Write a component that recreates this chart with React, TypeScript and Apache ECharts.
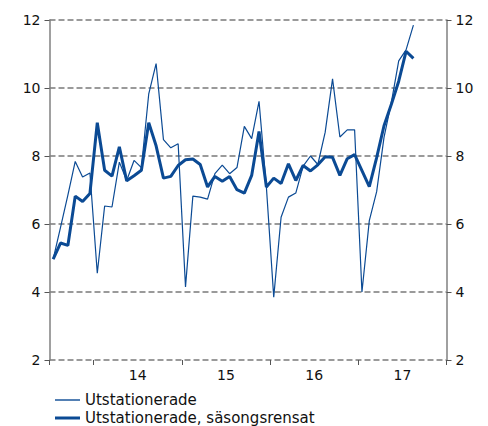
import React, { useEffect, useRef } from "react";
import * as echarts from "echarts";

// Months since Jan 2013; first observation is Jul 2013 (month 6), drawn mid-month
const firstMonth = 6;
const axisMin = 6;
const axisMax = 60;
const yearTickMonths = [6, 12, 24, 36, 48, 60];
const yearLabelMonths = [18, 30, 42, 54];
const yearLabels = ["14", "15", "16", "17"];

const seriesNames = ["Utstationerade", "Utstationerade, säsongsrensat"];

const utstationerade = [
  4.97, 5.9, 6.85, 7.84, 7.38, 7.5, 4.55, 6.53, 6.5, 7.82,
  7.28, 7.87, 7.66, 9.83, 10.72, 8.48, 8.24, 8.36, 4.15, 6.82,
  6.79, 6.73, 7.48, 7.73, 7.48, 7.66, 8.87, 8.51, 9.61, 7.09,
  3.85, 6.2, 6.79, 6.91, 7.7, 8.0, 7.75, 8.7, 10.27, 8.56,
  8.77, 8.77, 4.0, 6.1, 6.95, 8.55, 9.58, 10.8, 11.12, 11.85,
];

const sasongsrensat = [
  4.97, 5.44, 5.37, 6.82, 6.66, 6.9, 8.98, 7.58, 7.41, 8.27,
  7.27, 7.42, 7.58, 8.98, 8.3, 7.35, 7.4, 7.72, 7.89, 7.91,
  7.75, 7.09, 7.4, 7.26, 7.4, 7.01, 6.91, 7.43, 8.72, 7.09,
  7.35, 7.19, 7.77, 7.28, 7.72, 7.56, 7.74, 7.98, 7.96, 7.43,
  7.92, 8.04, 7.57, 7.1, 7.95, 8.89, 9.52, 10.2, 11.08, 10.87,
];

const toPoints = (vals: number[]) => vals.map((v, i) => [firstMonth + 0.5 + i, v]);

const FONT = "DejaVu Sans";
const LINE_COLOR = "#0b4a94";
const GRID_COLOR = "#7a7a7a";

export default function App() {
  const ref = useRef<HTMLDivElement>(null);
  useEffect(() => {
    if (!ref.current) return;
    const chart = echarts.init(ref.current, undefined, { renderer: "svg" });
    const yAxisBase = (position: "left" | "right", split: boolean) => ({
      type: "value" as const,
      position,
      min: 2,
      max: 12,
      interval: 2,
      axisLine: { show: true, lineStyle: { color: "#808080", width: 1.5 } },
      axisTick: { show: true, length: 5, lineStyle: { color: "#555", width: 1 } },
      axisLabel: { show: true, margin: 9, color: "#111", fontFamily: FONT, fontSize: 14 },
      splitLine: {
        show: split,
        lineStyle: { color: GRID_COLOR, width: 1.5, type: [6, 3] as any },
      },
    });
    const legendBase = (name: string, top: number, h: number) => ({
      orient: "horizontal" as const,
      left: 55,
      top,
      padding: 0,
      icon: "rect",
      itemWidth: 25,
      itemHeight: h,
      textStyle: { fontFamily: FONT, fontSize: 15, color: "#111", lineHeight: 16 },
      data: [name],
    });
    chart.setOption({
      animation: false,
      backgroundColor: "#ffffff",
      textStyle: { fontFamily: FONT },
      grid: { left: 49.5, right: 41.5, top: 20, bottom: 66, containLabel: false },
      xAxis: {
        type: "value",
        min: axisMin,
        max: axisMax,
        axisLine: { show: false },
        splitLine: { show: false },
        axisTick: {
          show: true,
          length: 5,
          customValues: yearTickMonths,
          lineStyle: { color: "#555", width: 1 },
        },
        axisLabel: {
          show: true,
          customValues: yearLabelMonths,
          margin: 8,
          color: "#111",
          fontFamily: FONT,
          fontSize: 14,
          formatter: (v: number) => {
            const idx = yearLabelMonths.indexOf(Math.round(v));
            return idx >= 0 ? yearLabels[idx] : "";
          },
        },
      },
      yAxis: [yAxisBase("left", true), yAxisBase("right", false)],
      legend: [
        legendBase(seriesNames[0], 392, 1.4),
        legendBase(seriesNames[1], 410, 3),
      ],
      series: [
        {
          name: seriesNames[0],
          type: "line",
          data: toPoints(utstationerade),
          symbol: "none",
          lineStyle: { color: LINE_COLOR, width: 1.2 },
          itemStyle: { color: LINE_COLOR },
          z: 3,
        },
        {
          name: seriesNames[1],
          type: "line",
          data: toPoints(sasongsrensat),
          symbol: "none",
          lineStyle: { color: LINE_COLOR, width: 3 },
          itemStyle: { color: LINE_COLOR },
          z: 4,
        },
      ],
    });
    return () => chart.dispose();
  }, []);
  return (
    <div
      ref={ref}
      style={{ position: "fixed", left: 0, top: 0, width: 488, height: 426, background: "#fff" }}
    />
  );
}
